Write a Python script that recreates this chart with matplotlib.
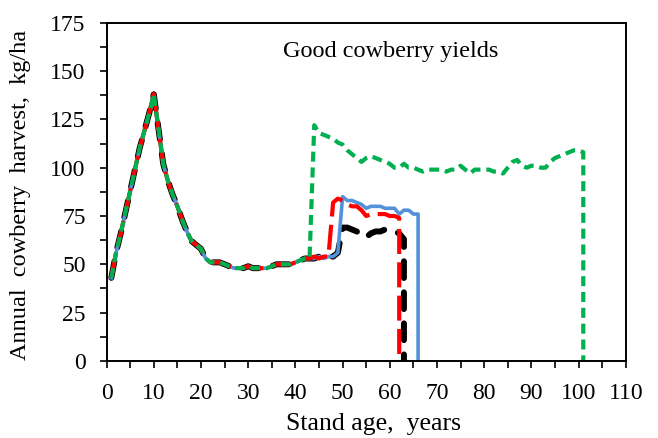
import numpy as np
import matplotlib
matplotlib.use('Agg')
import matplotlib.pyplot as plt
from matplotlib.ticker import MultipleLocator

plt.rcParams['font.family'] = ['Liberation Serif', 'DejaVu Serif']

# shared part of all scenarios, stand age 1..43
age_common = list(range(1, 44))
harvest_common = [43, 56, 66, 77, 88, 99, 110, 119, 128, 138,
                  120, 102, 93, 86, 80, 73, 67, 62, 60, 58,
                  53, 51, 51, 51, 50, 49, 48, 48, 48, 49,
                  48, 48, 48, 48, 49, 50, 50, 50, 50, 51,
                  52, 53, 53]

# scenario tails (last age repeated with 0 = harvest stops)
age_blue = list(range(44, 67)) + [66]
harvest_blue = [53, 54, 53, 54, 54, 56, 85, 83, 83, 82, 81, 79,
                80, 80, 80, 79, 79, 79, 76, 78, 78, 76, 76, 0]

age_red = list(range(44, 63)) + [62]
harvest_red = [54, 53, 54, 54, 82, 84, 83, 81, 80, 80, 78, 75,
               76, 76, 76, 76, 75, 75, 74, 0]

age_black = list(range(44, 64)) + [63]
harvest_black = [53, 54, 53, 54, 54, 56, 69, 69, 68, 67, 65, 64,
                 66, 67, 67, 68, 68, 67, 66, 63, 0]

age_green = list(range(44, 102)) + [101]
harvest_green = [122, 118, 117, 116, 115, 113, 112, 109, 107, 105,
                 103, 105, 106, 105, 104, 103, 102, 100, 100, 102,
                 100, 100, 99, 98, 99, 99, 99, 99, 98, 99,
                 99, 101, 99, 97, 99, 99, 99, 99, 98, 98,
                 97, 100, 103, 104, 101, 100, 101, 101, 100, 100,
                 103, 105, 106, 107, 108, 109, 109, 108, 0]

fig = plt.figure(figsize=(6.58, 4.38), dpi=100)
ax = fig.add_axes([0.162, 0.176, 0.789, 0.772])

ax.plot(age_common + age_black, harvest_common + harvest_black, color='black',
        lw=4.3, dashes=(2.8, 2.4), dash_capstyle='round', solid_capstyle='round')
ax.plot(age_common + age_blue, harvest_common + harvest_blue, color='#5590da', lw=2.6)
ax.plot(age_common + age_red, harvest_common + harvest_red, color='#ff0000',
        lw=3, dashes=(6, 2))
ax.plot(age_common + age_green, harvest_common + harvest_green, color='#00b050',
        lw=3, dashes=(2.4, 1.4))

ax.set_xlim(0, 110)
ax.set_ylim(0, 175)
ax.xaxis.set_major_locator(MultipleLocator(10))
ax.xaxis.set_minor_locator(MultipleLocator(5))
ax.yaxis.set_major_locator(MultipleLocator(25))
ax.yaxis.set_minor_locator(MultipleLocator(12.5))
ax.tick_params(which='both', direction='out', length=5, width=1.2, labelsize=17)
ax.tick_params(axis='x', pad=11)
ax.tick_params(axis='y', pad=10)
for s in ax.spines.values():
    s.set_linewidth(1.4)

ax.set_xlabel('Stand age,  years', fontsize=18.5)
ax.set_ylabel('Annual  cowberry  harvest,  kg/ha', fontsize=17.5)
ax.xaxis.set_label_coords(0.515, -0.155)
ax.yaxis.set_label_coords(-0.145, 0.49)

ax.text(0.547, 0.914, 'Good cowberry yields', transform=ax.transAxes,
        ha='center', va='center', fontsize=17.5)

fig.savefig('out.png', dpi=100)
